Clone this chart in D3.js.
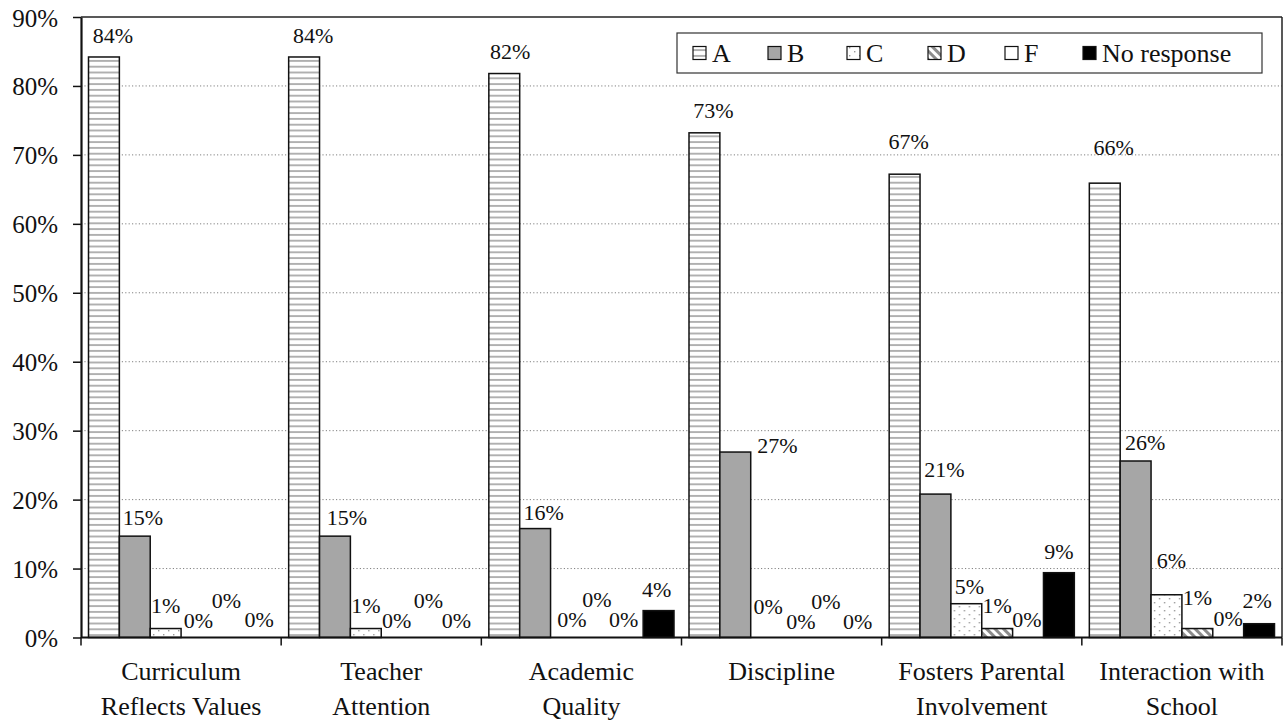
<!DOCTYPE html>
<html>
<head>
<meta charset="utf-8">
<script src="https://cdn.jsdelivr.net/npm/d3@7"></script>
<style>
  html, body { margin: 0; padding: 0; background: #fff; }
  svg { display: block; }
  svg text { font-family: "Liberation Serif", "Tinos", "Times New Roman", Times, "DejaVu Serif", serif; }
</style>
</head>
<body>
<svg id="chart" width="1284" height="721"></svg>
<script>
// Survey grades (% of respondents) for six school attributes
const categories = [
  ["Curriculum", "Reflects Values"],
  ["Teacher", "Attention"],
  ["Academic", "Quality"],
  ["Discipline"],
  ["Fosters Parental", "Involvement"],
  ["Interaction with", "School"]
];
const seriesNames = ["A", "B", "C", "D", "F", "No response"];
const valuesA = [84.2, 84.2, 81.8, 73.2, 67.2, 65.9];
const valuesB = [14.7, 14.7, 15.8, 26.9, 20.8, 25.6];
const valuesC = [1.3, 1.3, 0, 0, 4.9, 6.2];
const valuesD = [0, 0, 0, 0, 1.3, 1.3];
const valuesF = [0, 0, 0, 0, 0, 0];
const valuesNoResponse = [0, 0, 3.9, 0, 9.4, 2.0];
const yTicks = [0, 10, 20, 30, 40, 50, 60, 70, 80, 90];

// Label placement tweaks (px, relative to bar centre / bar top) so crowded labels don't collide
const labelDx = [
  [9, 9, 6, 9, 4, 9],
  [8, 12, 8.5, 42, 9, 9.5],
  [0, 0, 6, 2, 3, 5],
  [2, 0, 0, 4, 0, 0],
  [-1, 1, -4, -2, -1, 0],
  [1, -2, -2, -1, 0, -2]
];
const labelDy = [
  [-14, -14, -15, -15, -25, -28],
  [-11, -11, -9, 1, -17, -11],
  [-16, -16, -10.5, -23.5, -10, -27],
  [-9.5, -9.5, -30.5, -8.5, -15.5, -23.5],
  [-29.5, -29.5, -10.5, -28.5, -10.5, -11.5],
  [-10.5, -9.5, -14, -8.5, -14, -16]
];

const FONT = "'Liberation Serif', 'Tinos', 'Times New Roman', Times, 'DejaVu Serif', serif";
const seriesValues = [valuesA, valuesB, valuesC, valuesD, valuesF, valuesNoResponse];
const fills = ["url(#patA)", "#a6a6a6", "url(#patC)", "url(#patD)", "#ffffff", "#000000"];

const svg = d3.select("#chart").attr("font-family", FONT);
const plotLeft = 81, plotRight = 1282, plotTop = 17, plotBottom = 637.5;

const x0 = d3.scaleBand().domain(d3.range(categories.length)).range([plotLeft, plotRight]).padding(0);
const x1 = d3.scaleBand().domain(seriesNames).range([7.5, x0.bandwidth() - 7.5]).padding(0);
const y = d3.scaleLinear().domain([0, 90]).range([plotBottom, plotTop]);

// Fill patterns
const defs = svg.append("defs");
const pA = defs.append("pattern").attr("id", "patA").attr("patternUnits", "userSpaceOnUse")
  .attr("width", 12).attr("height", 5.8);
pA.append("rect").attr("width", 12).attr("height", 5.8).attr("fill", "#fff");
pA.append("rect").attr("y", 2).attr("width", 12).attr("height", 1.8).attr("fill", "#ababab");

const pC = defs.append("pattern").attr("id", "patC").attr("patternUnits", "userSpaceOnUse")
  .attr("width", 10).attr("height", 8);
pC.append("rect").attr("width", 10).attr("height", 8).attr("fill", "#fff");
pC.append("rect").attr("x", 2).attr("y", 2).attr("width", 1.4).attr("height", 1.4).attr("fill", "#999");
pC.append("rect").attr("x", 7).attr("y", 6).attr("width", 1.4).attr("height", 1.4).attr("fill", "#999");

const pD = defs.append("pattern").attr("id", "patD").attr("patternUnits", "userSpaceOnUse")
  .attr("width", 6).attr("height", 6).attr("patternTransform", "rotate(-45)");
pD.append("rect").attr("width", 6).attr("height", 6).attr("fill", "#fff");
pD.append("rect").attr("width", 3).attr("height", 6).attr("fill", "#8c8c8c");

// Horizontal dotted gridlines
svg.append("g").selectAll("line")
  .data(yTicks.filter(t => t > 0 && t < 90))
  .join("line")
  .attr("x1", plotLeft).attr("x2", plotRight)
  .attr("y1", d => y(d)).attr("y2", d => y(d))
  .attr("stroke", "#808080").attr("stroke-width", 1).attr("stroke-dasharray", "1.2,2.2");

// Plot frame: top and right edges
svg.append("line").attr("x1", plotLeft).attr("x2", plotRight).attr("y1", y(90)).attr("y2", y(90))
  .attr("stroke", "#222").attr("stroke-width", 1.5);
svg.append("line").attr("x1", plotRight).attr("x2", plotRight).attr("y1", y(90)).attr("y2", plotBottom)
  .attr("stroke", "#222").attr("stroke-width", 1.5);

// Bars
const groups = svg.append("g").selectAll("g")
  .data(categories.map((c, i) => i))
  .join("g")
  .attr("transform", i => `translate(${x0(i)},0)`);

groups.selectAll("rect")
  .data(i => seriesNames.map((s, k) => ({ s, k, i, v: seriesValues[k][i] })))
  .join("rect")
  .attr("x", d => x1(d.s))
  .attr("width", x1.bandwidth())
  .attr("y", d => y(d.v))
  .attr("height", d => plotBottom - y(d.v))
  .attr("fill", d => fills[d.k])
  .attr("stroke", d => d.v > 0 ? "#111" : "none")
  .attr("stroke-width", 1.5);

// Value labels
groups.selectAll("text")
  .data(i => seriesNames.map((s, k) => ({ s, k, i, v: seriesValues[k][i] })))
  .join("text")
  .attr("x", d => x1(d.s) + x1.bandwidth() / 2 + labelDx[d.k][d.i])
  .attr("y", d => y(d.v) + labelDy[d.k][d.i])
  .attr("text-anchor", "middle")
  .attr("font-family", FONT)
  .attr("font-size", 22)
  .attr("fill", "#111")
  .text(d => Math.round(d.v) + "%");

// Y axis
const yAxis = svg.append("g").attr("transform", `translate(${plotLeft},0)`)
  .call(d3.axisLeft(y).tickValues(yTicks).tickFormat(d => d + "%")
    .tickSize(8).tickSizeOuter(0).tickPadding(15));
yAxis.attr("font-family", FONT);
yAxis.select(".domain").attr("stroke", "#111").attr("stroke-width", 2.2);
yAxis.selectAll(".tick line").attr("stroke", "#111").attr("stroke-width", 1.5);
yAxis.selectAll(".tick text").attr("font-size", 25).attr("fill", "#111")
  .attr("font-family", FONT).attr("dy", "0.36em");

// X axis baseline and category boundary ticks
svg.append("line").attr("x1", plotLeft).attr("x2", plotRight).attr("y1", plotBottom).attr("y2", plotBottom)
  .attr("stroke", "#111").attr("stroke-width", 2);
svg.append("g").selectAll("line")
  .data(d3.range(categories.length + 1))
  .join("line")
  .attr("x1", i => i < categories.length ? x0(i) : plotRight)
  .attr("x2", i => i < categories.length ? x0(i) : plotRight)
  .attr("y1", plotBottom).attr("y2", plotBottom + 8)
  .attr("stroke", "#111").attr("stroke-width", 1.5);

// Category labels (one or two lines)
const catText = svg.append("g").selectAll("text")
  .data(categories.map((c, i) => ({ c, i })))
  .join("text")
  .attr("x", d => x0(d.i) + x0.bandwidth() / 2)
  .attr("y", 680)
  .attr("text-anchor", "middle")
  .attr("font-family", FONT)
  .attr("font-size", 26)
  .attr("fill", "#111");
catText.selectAll("tspan")
  .data(d => d.c.map(line => ({ line, x: x0(d.i) + x0.bandwidth() / 2 })))
  .join("tspan")
  .attr("x", d => d.x)
  .attr("dy", (d, j) => j === 0 ? 0 : 35)
  .text(d => d.line);

// Legend
const legendX = 677, legendY = 33, legendW = 585, legendH = 40;
const legend = svg.append("g");
legend.append("rect").attr("x", legendX).attr("y", legendY).attr("width", legendW).attr("height", legendH)
  .attr("fill", "#fff").attr("stroke", "#333").attr("stroke-width", 1.2);
const itemStarts = [693, 768, 847, 928, 1005, 1083];
const li = legend.selectAll("g.item")
  .data(seriesNames.map((s, k) => ({ s, k })))
  .join("g").attr("class", "item")
  .attr("transform", d => `translate(${itemStarts[d.k]},${legendY + legendH / 2})`);
li.append("rect").attr("x", 0).attr("y", -6.5).attr("width", 13).attr("height", 13)
  .attr("fill", d => fills[d.k]).attr("stroke", "#111").attr("stroke-width", 1.2);
li.append("text").attr("x", 19).attr("y", 9).attr("font-family", FONT).attr("font-size", 26).attr("fill", "#111")
  .text(d => d.s);
</script>
</body>
</html>
